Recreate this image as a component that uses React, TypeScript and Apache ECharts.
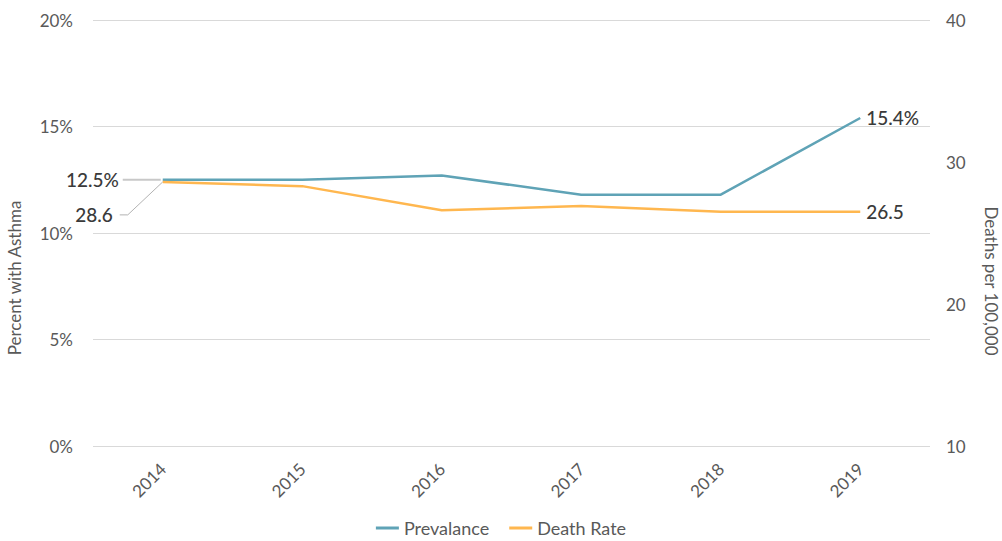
import React, { useEffect, useRef } from "react";
import * as echarts from "echarts";

const years = ["2014", "2015", "2016", "2017", "2018", "2019"];
const prevalence = [12.5, 12.5, 12.7, 11.8, 11.8, 15.4];
const deathRate = [28.6, 28.3, 26.6, 26.9, 26.5, 26.5];
const leftTicks = { min: 0, max: 20, interval: 5 };
const rightTicks = { min: 10, max: 40, interval: 10 };

const FONT = "Lato, 'Noto Sans', sans-serif";
const GRAY = "#595959";
const DARK = "#3a3a3a";

// leader label offsets (pixels, relative to the first point)
const PREV_GAP = 44;
const DEATH_GAP = 50;
const DEATH_DY = 33;

export default function App() {
  const ref = useRef<HTMLDivElement>(null);
  useEffect(() => {
    const chart = echarts.init(ref.current!, null, { renderer: "svg" });
    const lastIdx = years.length - 1;
    const shift = (gap: number, dy: number) => (p: any) => {
      if (p.dataIndex !== 0) return {};
      return { dx: -(p.labelRect.width + 6 + gap), dy } as any;
    };
    const labelStyle = {
      show: true,
      fontSize: 19,
      fontWeight: 500,
      color: DARK,
      position: "right",
      distance: 6,
    };
    chart.setOption({
      animation: false,
      textStyle: { fontFamily: FONT },
      grid: { left: 93, right: 72, top: 20, bottom: 95 },
      legend: {
        bottom: -1,
        left: "center",
        itemWidth: 23,
        itemHeight: 3,
        itemGap: 20,
        icon: "rect",
        textStyle: { color: GRAY, fontSize: 18, fontFamily: FONT },
        data: ["Prevalance", "Death Rate"],
      },
      xAxis: {
        type: "category",
        data: years,
        boundaryGap: true,
        axisLine: { show: false },
        axisTick: { show: false },
        axisLabel: { rotate: 45, color: GRAY, fontSize: 17, margin: 20 },
      },
      yAxis: [
        {
          type: "value",
          ...leftTicks,
          axisLabel: {
            color: GRAY,
            fontSize: 17,
            margin: 20,
            formatter: (v: number) => v + "%",
          },
          splitLine: { lineStyle: { color: "#d9d9d9", width: 1 } },
          axisLine: { show: false },
          axisTick: { show: false },
        },
        {
          type: "value",
          ...rightTicks,
          axisLabel: { color: GRAY, fontSize: 17, margin: 16 },
          splitLine: { show: false },
          axisLine: { show: false },
          axisTick: { show: false },
        },
      ],
      series: [
        {
          name: "Prevalance",
          type: "line",
          yAxisIndex: 0,
          symbol: "circle",
          symbolSize: 0,
          showAllSymbol: true,
          lineStyle: { color: "#5fa3b6", width: 2.5 },
          itemStyle: { color: "#5fa3b6" },
          data: prevalence,
          label: {
            ...labelStyle,
            formatter: (p: any) =>
              p.dataIndex === 0 || p.dataIndex === lastIdx ? p.value.toFixed(1) + "%" : "",
          },
          labelLayout: shift(PREV_GAP, 0),
        },
        {
          name: "Death Rate",
          type: "line",
          yAxisIndex: 1,
          symbol: "circle",
          symbolSize: 0,
          showAllSymbol: true,
          lineStyle: { color: "#ffb74f", width: 2.5 },
          itemStyle: { color: "#ffb74f" },
          data: deathRate,
          label: {
            ...labelStyle,
            formatter: (p: any) =>
              p.dataIndex === 0 || p.dataIndex === lastIdx ? p.value.toFixed(1) : "",
          },
          labelLayout: shift(DEATH_GAP, DEATH_DY),
        },
      ],
    });

    const p0 = chart.convertToPixel({ xAxisIndex: 0, yAxisIndex: 0 }, [0, prevalence[0]]) as number[];
    const p1 = chart.convertToPixel({ xAxisIndex: 0, yAxisIndex: 1 }, [0, deathRate[0]]) as number[];
    chart.setOption({
      graphic: [
        {
          type: "text",
          rotation: Math.PI / 2,
          style: {
            text: "Percent with Asthma",
            fill: GRAY,
            font: `17px ${FONT}`,
            align: "center",
            verticalAlign: "middle",
          },
          x: 14,
          y: 278,
        },
        {
          type: "text",
          rotation: -Math.PI / 2,
          style: {
            text: "Deaths per 100,000",
            fill: GRAY,
            font: `17px ${FONT}`,
            align: "center",
            verticalAlign: "middle",
          },
          x: 991,
          y: 281,
        },
        {
          type: "line",
          shape: { x1: p0[0] - PREV_GAP + 4, y1: p0[1], x2: p0[0] - 2, y2: p0[1] },
          style: { stroke: "#c8c8c8", lineWidth: 2 },
          z: 1,
        },
        {
          type: "polyline",
          shape: {
            points: [
              [p1[0] - DEATH_GAP + 7, p1[1] + DEATH_DY],
              [p1[0] - DEATH_GAP + 15, p1[1] + DEATH_DY],
              [p1[0], p1[1]],
            ],
          },
          style: { stroke: "#b3b3b3", lineWidth: 1, fill: "none" },
          z: 1,
        },
      ],
    });
    return () => chart.dispose();
  }, []);
  return <div ref={ref} style={{ width: 1002, height: 541, position: "absolute", left: 0, top: 0 }} />;
}
